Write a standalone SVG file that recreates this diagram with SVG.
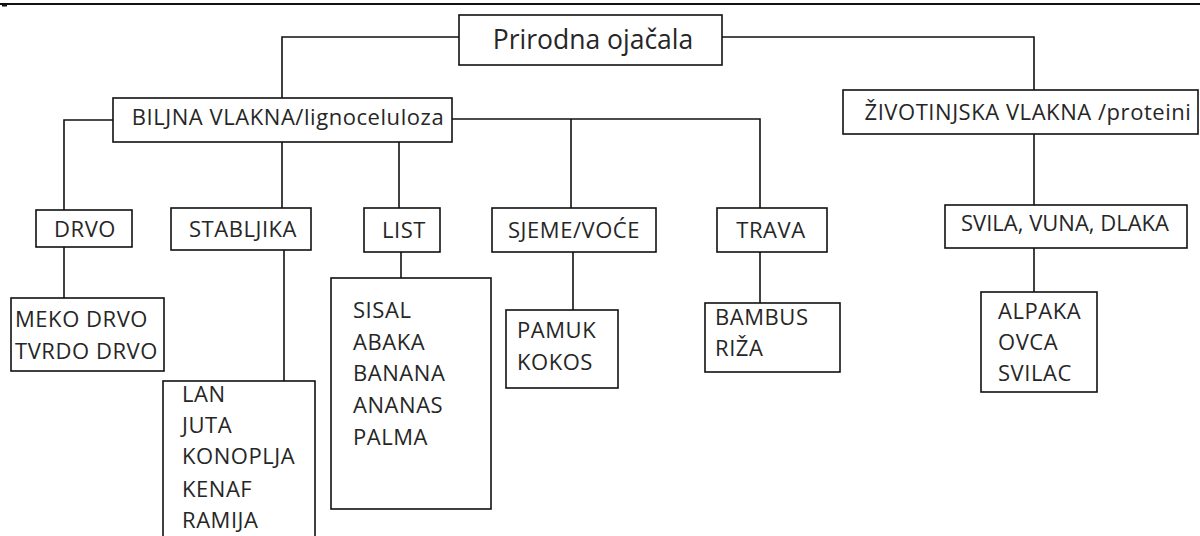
<svg xmlns="http://www.w3.org/2000/svg" width="1200" height="536" viewBox="0 0 1200 536">
<style>
.box{fill:#fff;stroke:#111;stroke-width:1.6}
.ln{fill:none;stroke:#111;stroke-width:1.6}
text{font-family:"Open Sans","Noto Sans","Liberation Sans",sans-serif;font-size:22px;letter-spacing:0.55px;fill:#262626}
.c{text-anchor:middle}
.big{font-size:26.5px;letter-spacing:0}
.tight{letter-spacing:0}
</style>
<rect x="0" y="0" width="1200" height="536" fill="#fff"/>
<line x1="0" y1="4" x2="1200" y2="4" stroke="#111" stroke-width="2"/>
<line x1="2" y1="5" x2="7" y2="5" stroke="#111" stroke-width="3"/>
<g id="connectors" class="ln">
<polyline points="459,37 282,37 282,98"/>
<polyline points="722,37 1034,37 1034,90"/>
<polyline points="113,120 64,120 64,210"/>
<line x1="282" y1="142" x2="282" y2="208"/>
<line x1="399" y1="142" x2="399" y2="208"/>
<polyline points="452,119 760,119 760,208"/>
<line x1="571" y1="119" x2="571" y2="208"/>
<line x1="1034" y1="134" x2="1034" y2="205"/>
<line x1="64" y1="247" x2="64" y2="298"/>
<line x1="284" y1="250" x2="284" y2="381"/>
<line x1="401" y1="252" x2="401" y2="278"/>
<line x1="573" y1="252" x2="573" y2="310"/>
<line x1="760" y1="252" x2="760" y2="303"/>
<line x1="1034" y1="248" x2="1034" y2="292"/>
</g>
<g id="root"><rect class="box" x="459" y="15" width="263" height="50"/><text class="c big" x="593" y="49">Prirodna ojačala</text></g>
<g id="biljna"><rect class="box" x="113" y="98" width="339" height="44"/><text class="c" x="288" y="125">BILJNA VLAKNA/lignoceluloza</text></g>
<g id="zivotinjska"><rect class="box" x="843" y="90" width="355" height="44"/><text class="c" x="1028" y="120">ŽIVOTINJSKA VLAKNA /proteini</text></g>
<g id="drvo"><rect class="box" x="36" y="210" width="96" height="37"/><text class="c" x="85" y="237">DRVO</text></g>
<g id="stabljika"><rect class="box" x="171" y="208" width="140" height="42"/><text class="c" x="243" y="237">STABLJIKA</text></g>
<g id="list"><rect class="box" x="364" y="208" width="76" height="44"/><text class="c" x="404" y="238">LIST</text></g>
<g id="sjeme"><rect class="box" x="492" y="208" width="164" height="44"/><text class="c" x="574" y="238">SJEME/VOĆE</text></g>
<g id="trava"><rect class="box" x="717" y="208" width="110" height="44"/><text class="c" x="771" y="238">TRAVA</text></g>
<g id="svila"><rect class="box" x="945" y="205" width="242" height="43"/><text class="c tight" x="1065" y="231">SVILA, VUNA, DLAKA</text></g>
<g id="drvo-list"><rect class="box" x="11" y="298" width="153" height="73"/><text x="15" y="327">MEKO DRVO</text><text x="15" y="359">TVRDO DRVO</text></g>
<g id="stabljika-list"><rect class="box" x="163" y="381" width="152" height="170"/><text x="182" y="402">LAN</text><text x="182" y="433">JUTA</text><text x="182" y="464">KONOPLJA</text><text x="182" y="497">KENAF</text><text x="182" y="528">RAMIJA</text></g>
<g id="list-list"><rect class="box" x="331" y="278" width="160" height="231"/><text x="353" y="318">SISAL</text><text x="353" y="350">ABAKA</text><text x="353" y="381">BANANA</text><text x="353" y="413">ANANAS</text><text x="353" y="445">PALMA</text></g>
<g id="sjeme-list"><rect class="box" x="506" y="310" width="112" height="78"/><text x="517" y="338">PAMUK</text><text x="517" y="370">KOKOS</text></g>
<g id="trava-list"><rect class="box" x="705" y="303" width="135" height="69"/><text x="715" y="325">BAMBUS</text><text x="715" y="356">RIŽA</text></g>
<g id="svila-list"><rect class="box" x="981" y="292" width="116" height="100"/><text x="998" y="319">ALPAKA</text><text x="998" y="350">OVCA</text><text x="998" y="381">SVILAC</text></g>
</svg>
